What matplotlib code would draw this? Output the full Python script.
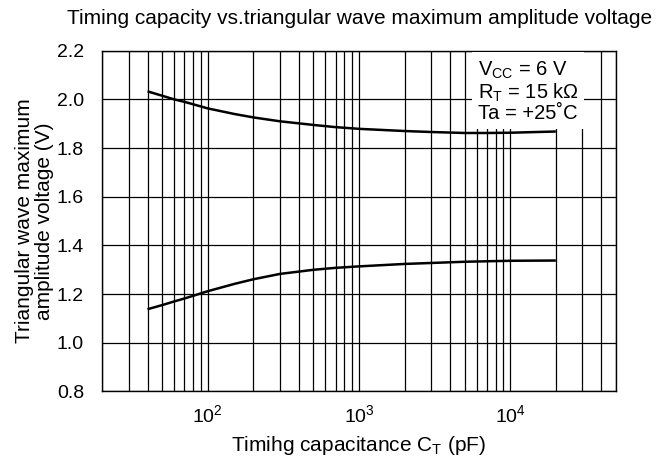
import math
import matplotlib
matplotlib.use("Agg")
import matplotlib.pyplot as plt
from matplotlib.ticker import FixedLocator, LogLocator, NullFormatter, FuncFormatter

plt.rcParams["font.family"] = ["Liberation Sans", "DejaVu Sans"]
plt.rcParams["mathtext.fontset"] = "custom"
plt.rcParams["mathtext.rm"] = "Liberation Sans"

# upper branch (max) and lower branch (min) of the triangular wave
ct_upper = [40, 50, 60, 70, 80, 100, 150, 200, 300, 500, 700, 1000, 2000, 3000, 5000, 7000, 10000, 15000, 20000]
v_upper = [2.033, 2.015, 2.000, 1.990, 1.980, 1.963, 1.940, 1.926, 1.910, 1.895, 1.886, 1.879, 1.870, 1.866,
           1.862, 1.862, 1.863, 1.866, 1.868]
ct_lower = [40, 50, 60, 70, 80, 100, 150, 200, 300, 500, 700, 1000, 2000, 3000, 5000, 10000, 20000]
v_lower = [1.138, 1.155, 1.170, 1.182, 1.193, 1.212, 1.242, 1.261, 1.283, 1.300, 1.308, 1.314, 1.324, 1.328,
           1.333, 1.337, 1.338]
y_ticks = [0.8, 1.0, 1.2, 1.4, 1.6, 1.8, 2.0, 2.2]
x_ticks = [1e2, 1e3, 1e4]

fig = plt.figure(figsize=(6.61, 4.58), dpi=100)
ax = fig.add_axes([0.1543, 0.1452, 0.932 - 0.1543, 0.8893 - 0.1452])

ax.plot(ct_upper, v_upper, color="black", lw=1.8, solid_capstyle="butt", zorder=5)
ax.plot(ct_lower, v_lower, color="black", lw=1.8, solid_capstyle="butt", zorder=5)

ax.set_xscale("log")
ax.set_xlim(20, 50000)
ax.set_ylim(0.8, 2.2)
ax.xaxis.set_major_locator(FixedLocator(x_ticks))
ax.xaxis.set_minor_locator(LogLocator(base=10, subs=range(1, 10), numticks=20))
ax.xaxis.set_minor_formatter(NullFormatter())
ax.xaxis.set_major_formatter(FuncFormatter(lambda v, p: r"$\mathdefault{10^{%d}}$" % round(math.log10(v))))
ax.set_yticks(y_ticks)
ax.yaxis.set_major_formatter(FuncFormatter(lambda v, p: f"{v:.1f}"))
ax.grid(True, which="both", axis="x", color="black", lw=0.9)
ax.grid(True, which="major", axis="y", color="black", lw=0.9)
ax.tick_params(which="both", length=0, labelsize=14, colors="black")
ax.tick_params(axis="y", pad=13)
ax.tick_params(axis="x", pad=9)
for s in ax.spines.values():
    s.set_color("black"); s.set_linewidth(1.0)

ax.set_xlabel(r"Timihg capacitance C$_\mathdefault{T}$ (pF)", fontsize=15, labelpad=6)
ax.set_ylabel("Triangular wave maximum\namplitude voltage (V)", fontsize=15, labelpad=2, linespacing=1.05)
fig.text(360 / 661, 1 - 18 / 458, "Timing capacity vs.triangular wave maximum amplitude voltage",
         ha="center", va="center", fontsize=15)

ax.text(0.731, 0.975, "V$_\\mathdefault{CC}$ = 6 V\nR$_\\mathdefault{T}$ = 15 k\u03a9\nTa = +25\u02daC",
        transform=ax.transAxes, ha="left", va="top", fontsize=14.5, linespacing=1.05,
        bbox=dict(facecolor="white", edgecolor="none", pad=4), zorder=4)

fig.savefig("out.png", dpi=100, facecolor="white")
